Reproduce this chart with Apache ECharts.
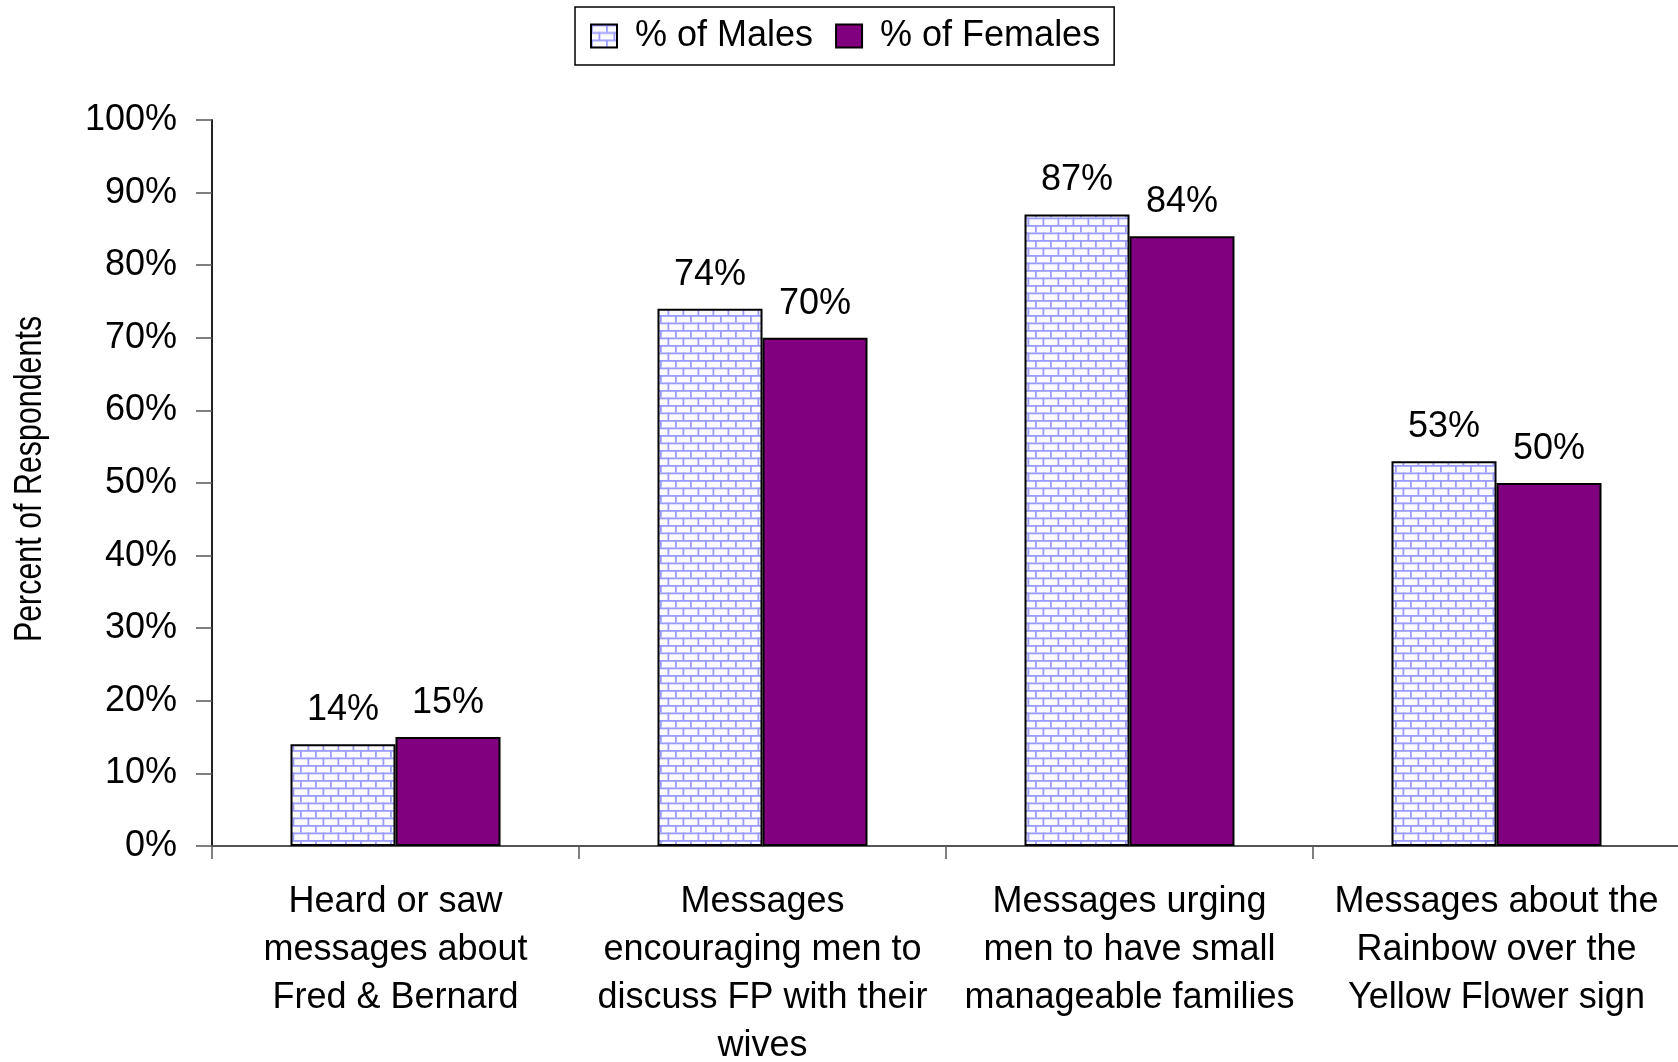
<!DOCTYPE html>
<html>
<head>
<meta charset="utf-8">
<script src="https://cdn.jsdelivr.net/npm/echarts@6/dist/echarts.min.js"></script>
<style>
html,body{margin:0;padding:0;background:#fff;}
#chart{width:1678px;height:1062px;}
</style>
</head>
<body>
<div id="chart"></div>
<script>
const categories = [
  'Heard or saw\nmessages about\nFred & Bernard',
  'Messages\nencouraging men to\ndiscuss FP with their\nwives',
  'Messages urging\nmen to have small\nmanageable families',
  'Messages about the\nRainbow over the\nYellow Flower sign'
];
const seriesNames = ['% of Males', '% of Females'];
const malesValues = [14, 74, 87, 53];
const femalesValues = [15, 70, 84, 50];
const yTickValues = [0, 10, 20, 30, 40, 50, 60, 70, 80, 90, 100];
const yAxisTitle = 'Percent of Respondents';

// brick pattern for the males series
function brickPattern() {
  const c = document.createElement('canvas');
  c.width = 15; c.height = 15;
  const ctx = c.getContext('2d');
  ctx.fillStyle = '#fbfbff';
  ctx.fillRect(0, 0, 15, 15);
  ctx.fillStyle = '#9c9cff';
  ctx.fillRect(0, 0, 15, 1.8);
  ctx.fillRect(0, 7.5, 15, 1.8);
  ctx.fillRect(0, 0, 1.8, 7.5);
  ctx.fillRect(7.5, 7.5, 1.8, 7.5);
  return c;
}

const FONT = "'Liberation Sans', Arial, sans-serif";
const chart = echarts.init(document.getElementById('chart'), null, {renderer: 'canvas'});

const option = {
  backgroundColor: '#ffffff',
  animation: false,
  legend: {
    left: 575,
    top: 7,
    padding: [11, 14, 11, 15],
    itemGap: 22,
    itemWidth: 26,
    itemHeight: 23,
    icon: 'rect',
    borderColor: '#000',
    borderWidth: 1.5,
    textStyle: {fontFamily: FONT, fontSize: 36, color: '#000', lineHeight: 36, padding: [0, 0, 0, 13]},
    data: seriesNames
  },
  graphic: [{
    type: 'text',
    x: 31,
    y: 479,
    rotation: Math.PI / 2,
    scaleX: 0.8,
    style: {
      text: yAxisTitle,
      fontFamily: FONT,
      fontSize: 38,
      fill: '#000',
      textAlign: 'center',
      textVerticalAlign: 'middle'
    }
  }],
  grid: {left: 212, top: 120, width: 1468, bottom: 216, containLabel: false, outerBoundsMode: 'none'},
  xAxis: {
    type: 'category',
    data: categories,
    axisLine: {lineStyle: {color: '#555', width: 2}},
    axisTick: {show: true, length: 13, lineStyle: {color: '#555', width: 1.5}},
    axisLabel: {
      interval: 0,
      margin: 32,
      fontFamily: FONT,
      fontSize: 36,
      lineHeight: 48,
      color: '#000'
    }
  },
  yAxis: {
    type: 'value',
    min: 0,
    max: 100,
    interval: 10,
    axisLine: {show: true, lineStyle: {color: '#222', width: 2}},
    axisTick: {show: true, length: 16, lineStyle: {color: '#555', width: 1.5}},
    splitLine: {show: false},
    axisLabel: {
      margin: 35,
      fontFamily: FONT,
      fontSize: 36,
      color: '#000',
      formatter: function (v) { return yTickValues.indexOf(v) >= 0 ? v + '%' : ''; }
    }
  },
  series: [
    {
      name: seriesNames[0],
      type: 'bar',
      data: malesValues,
      barWidth: 105,
      barGap: '0%',
      itemStyle: {color: {image: brickPattern(), repeat: 'repeat'}, borderColor: '#000', borderWidth: 2},
      label: {show: true, position: 'top', distance: 16, fontFamily: FONT, fontSize: 36, color: '#000', formatter: '{c}%'}
    },
    {
      name: seriesNames[1],
      type: 'bar',
      data: femalesValues,
      barWidth: 105,
      barGap: '0%',
      itemStyle: {color: '#800080', borderColor: '#000', borderWidth: 2},
      label: {show: true, position: 'top', distance: 16, fontFamily: FONT, fontSize: 36, color: '#000', formatter: '{c}%'}
    }
  ]
};
chart.setOption(option);
</script>
</body>
</html>
